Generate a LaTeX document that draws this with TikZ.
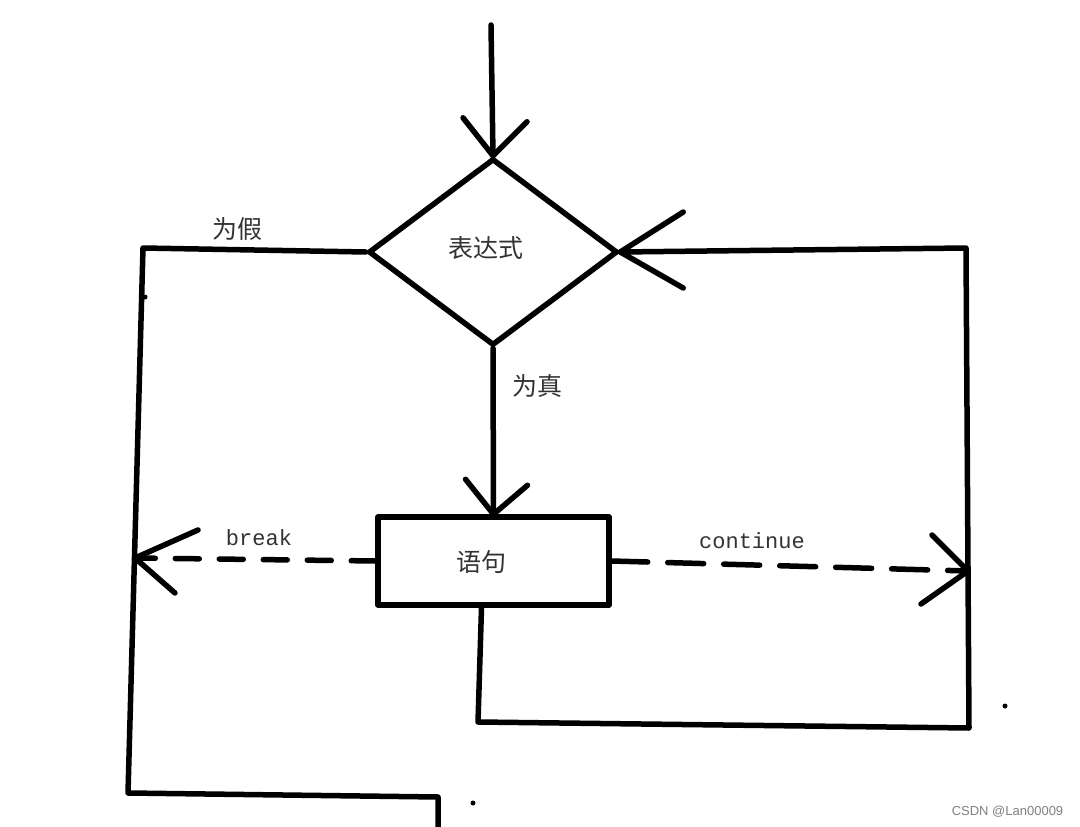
\documentclass[tikz,border=0pt]{standalone}
\usepackage{fontspec}
\setmainfont{Liberation Mono}
\newfontfamily\cjk{Noto Sans CJK SC}
\newfontfamily\wm{Liberation Sans}
\usetikzlibrary{shapes.geometric}
\begin{document}
\begin{tikzpicture}[x=1pt,y=-1pt, line width=5.5pt, line cap=round, line join=round,
  dashbreak/.style={line width=5.5pt, dash pattern=on 24pt off 20pt},
  dashcont/.style={line width=5.5pt, dash pattern=on 36pt off 20pt},
  cn/.style={font=\cjk\fontsize{25}{28}\selectfont, text=black!80},
  en/.style={font=\fontsize{22}{26}\selectfont, text=black!80},
  shapebox/.style={draw, line width=5.5pt, inner sep=0pt}]
\fill[white] (0,0) rectangle (1080,827);
\useasboundingbox (0,0) rectangle (1080,827);

% nodes
\node[shapebox, diamond, minimum width=249pt, minimum height=187pt] (d) at (493,252) {};
\node[cn] (dt) at (486,248) {表达式};
\node[shapebox, rectangle, minimum width=231pt, minimum height=88pt] (b) at (493.5,561) {};
\node[cn] (bt) at (481,562) {语句};

% coordinates
\coordinate (top) at (491,25);
\coordinate (l1) at (143,248);
\coordinate (l2) at (128,793);
\coordinate (l3) at (438,797);
\coordinate (l4) at (438,830);
\coordinate (r1) at (966,248);
\coordinate (r2) at (969,728);
\coordinate (r3) at (478,722);
\coordinate (bk) at (135,558);
\coordinate (ct) at (968,571);

% entry
\draw (top) -- (d.north);
\draw (d.north) ++(-30,-38) -- (d.north) -- ++(34,-34);

% false branch
\draw (d.west) -- (l1) -- (l2) -- (l3) -- (l4);

% true branch
\draw (d.south) -- (b.north);
\draw (b.north) ++(-28,-35) -- (b.north) -- ++(34,-29);

% loop back
\draw ([xshift=-12pt]b.south) -- (r3) -- (r2) -- (r1) -- (d.east);
\draw (d.east) ++(63,-40) -- (d.east) -- ++(63,36);

% break
\draw[dashbreak] (b.west) -- (bk);
\draw (bk) ++(63,-28) -- (bk) -- ++(40,35);

% continue
\draw[dashcont] (b.east) -- (ct);
\draw (ct) ++(-36,-36) -- (ct) -- ++(-47,33);

% labels
\node[cn] (lf) at (237,229) {为假};
\node[cn] (lt) at (537,386) {为真};
\node[en] (lb) at (259,538) {break};
\node[en] (lc) at (752,541) {continue};

% stray dots
\fill (145,297) circle (2.5);
\fill (1005,706) circle (2.5);
\fill (473,803) circle (2.5);

% watermark
\node[anchor=east, font=\wm\fontsize{13}{15}\selectfont, text=gray, inner sep=0pt] (wm) at (1066,812) {CSDN @Lan00009};
\end{tikzpicture}
\end{document}
